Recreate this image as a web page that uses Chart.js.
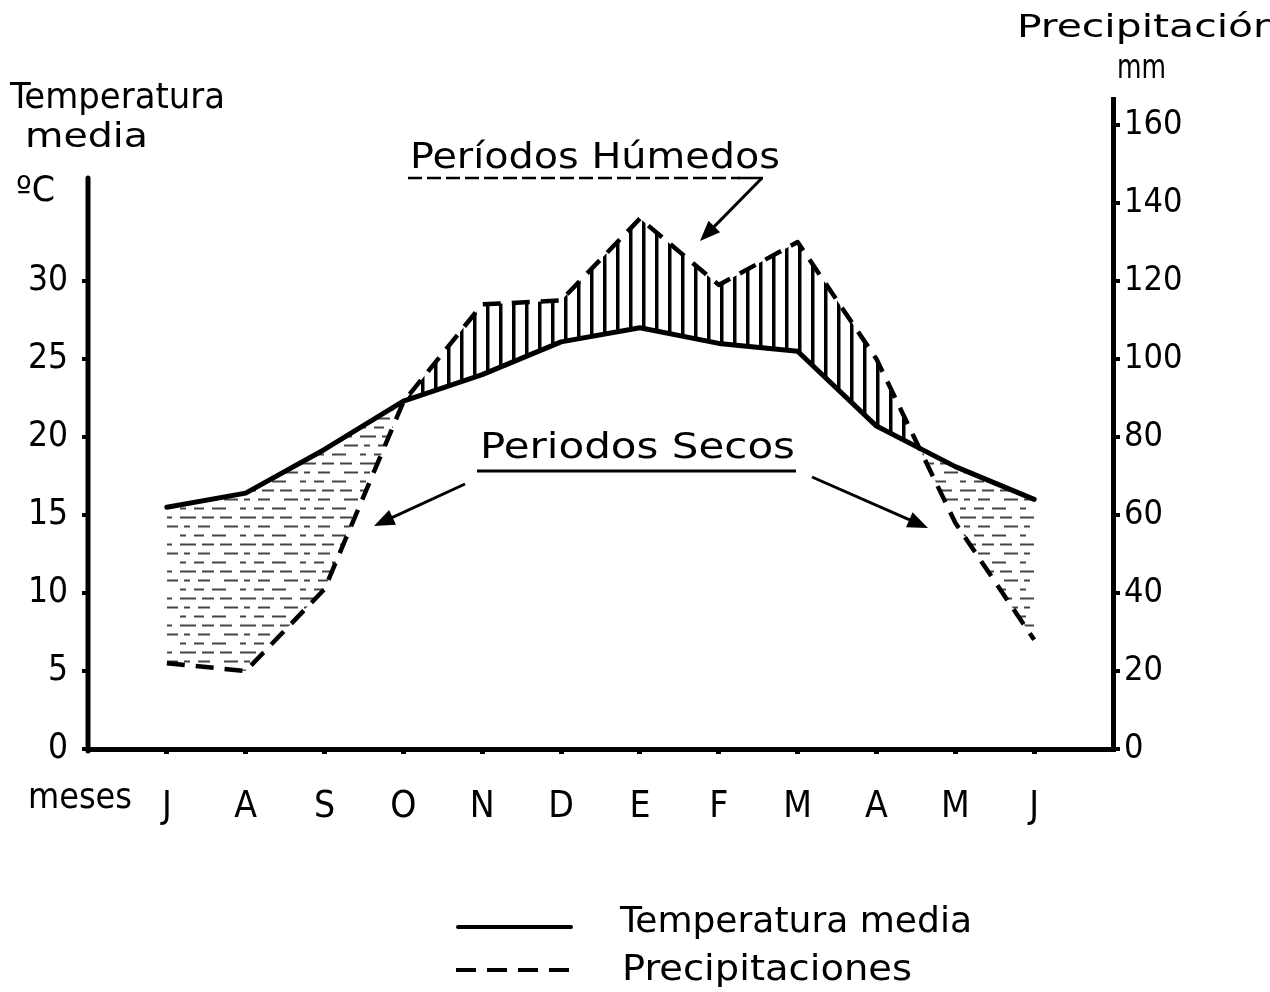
<!DOCTYPE html>
<html>
<head>
<meta charset="utf-8">
<script src="https://cdn.jsdelivr.net/npm/chart.js@4"></script>
<style>
  html, body { margin: 0; padding: 0; background: #fff; }
  #wrap { width: 1270px; height: 992px; }
</style>
</head>
<body>
<div id="wrap"><canvas id="climograma" width="1270" height="992"></canvas></div>
<script>
// meses (julio a junio)
const meses = ['J', 'A', 'S', 'O', 'N', 'D', 'E', 'F', 'M', 'A', 'M', 'J'];
// temperatura media, °C
const temperatura = [15.5, 16.4, 19.2, 22.3, 24.0, 26.1, 27.0, 26.0, 25.5, 20.7, 18.1, 16.0];
// precipitaciones, mm
const precipitacion = [22, 20, 41, 89, 114, 115, 136, 119, 130, 100, 58, 28];
// ticks
const ticksTemp = [0, 5, 10, 15, 20, 25, 30];
const ticksPrec = [0, 20, 40, 60, 80, 100, 120, 140, 160];

const FAMILY = '"DejaVu Sans Condensed", "DejaVu Sans", sans-serif';
const font = size => `${size}px ${FAMILY}`;
Chart.defaults.font.family = FAMILY;
Chart.defaults.color = '#000';

// hatching: vertical lines for wet period, broken horizontal lines for dry period
function wetPattern() {
  const c = document.createElement('canvas');
  c.width = 13; c.height = 8;
  const g = c.getContext('2d');
  g.fillStyle = '#000';
  g.fillRect(5, 0, 3.5, 8);
  return g.createPattern(c, 'repeat');
}

function dryPattern() {
  const c = document.createElement('canvas');
  c.width = 60; c.height = 27;
  const g = c.getContext('2d');
  g.strokeStyle = '#444';
  g.lineWidth = 2;
  const rows = [
    [[0, 16], [22, 34], [40, 52]],
    [[4, 10], [18, 30], [44, 58]],
    [[0, 6], [14, 24], [32, 46]]
  ];
  rows.forEach((segs, r) => segs.forEach(([a, b]) => {
    g.beginPath();
    g.moveTo(a, r * 9 + 4.5);
    g.lineTo(b, r * 9 + 4.5);
    g.stroke();
  }));
  return g.createPattern(c, 'repeat');
}

function fitText(ctx, str, x, base, size, w) {
  ctx.save();
  ctx.font = font(size);
  const m = ctx.measureText(str).width;
  ctx.translate(x, base);
  ctx.scale(w / m, 1);
  ctx.textAlign = 'left';
  ctx.textBaseline = 'alphabetic';
  ctx.fillStyle = '#000';
  ctx.fillText(str, 0, 0);
  ctx.restore();
}

function arrow(ctx, x1, y1, x2, y2, head = 20, lw = 3) {
  const a = Math.atan2(y2 - y1, x2 - x1);
  ctx.save();
  ctx.strokeStyle = '#000';
  ctx.fillStyle = '#000';
  ctx.lineWidth = lw;
  ctx.setLineDash([]);
  ctx.beginPath();
  ctx.moveTo(x1, y1);
  ctx.lineTo(x2 - Math.cos(a) * head * 0.6, y2 - Math.sin(a) * head * 0.6);
  ctx.stroke();
  ctx.beginPath();
  ctx.moveTo(x2, y2);
  ctx.lineTo(x2 - head * Math.cos(a - 0.38), y2 - head * Math.sin(a - 0.38));
  ctx.lineTo(x2 - head * Math.cos(a + 0.38), y2 - head * Math.sin(a + 0.38));
  ctx.closePath();
  ctx.fill();
  ctx.restore();
}

const decor = {
  id: 'decor',
  afterDraw(chart) {
    const ctx = chart.ctx;
    const yT = chart.scales.yT;
    const left = chart.chartArea.left;

    // left axis line (stops above 30 °C)
    ctx.save();
    ctx.strokeStyle = '#000';
    ctx.lineWidth = 5;
    ctx.lineCap = 'round';
    ctx.beginPath();
    ctx.moveTo(left, yT.getPixelForValue(0) + 2);
    ctx.lineTo(left, yT.getPixelForValue(36.6));
    ctx.stroke();
    ctx.restore();

    // axis titles
    fitText(ctx, 'Temperatura', 10, 108, 36, 215);
    fitText(ctx, 'media', 25, 147, 34, 123);
    fitText(ctx, 'ºC', 16, 201, 36, 39);
    fitText(ctx, 'Precipitación', 1017, 37, 32, 262);
    fitText(ctx, 'mm', 1117, 78, 34, 49);
    fitText(ctx, 'meses', 28, 808, 36, 104);

    // Períodos Húmedos
    fitText(ctx, 'Períodos Húmedos', 410, 168, 35, 370);
    ctx.save();
    ctx.strokeStyle = '#000';
    ctx.lineWidth = 2.5;
    ctx.setLineDash([14, 5]);
    ctx.beginPath();
    ctx.moveTo(408, 178);
    ctx.lineTo(740, 178);
    ctx.stroke();
    ctx.setLineDash([]);
    ctx.beginPath();
    ctx.moveTo(738, 178);
    ctx.lineTo(763, 178);
    ctx.stroke();
    ctx.restore();
    arrow(ctx, 762, 178, 700, 241, 22, 3);

    // Periodos Secos
    fitText(ctx, 'Periodos Secos', 480, 458, 35, 315);
    ctx.save();
    ctx.strokeStyle = '#000';
    ctx.lineWidth = 3;
    ctx.beginPath();
    ctx.moveTo(477, 471);
    ctx.lineTo(796, 471);
    ctx.stroke();
    ctx.restore();
    arrow(ctx, 465, 484, 374, 526, 22, 3);
    arrow(ctx, 812, 477, 928, 528, 22, 3);

    // legend
    ctx.save();
    ctx.strokeStyle = '#000';
    ctx.lineWidth = 4;
    ctx.lineCap = 'round';
    ctx.beginPath();
    ctx.moveTo(458, 927);
    ctx.lineTo(571, 927);
    ctx.stroke();
    ctx.setLineDash([20, 11]);
    ctx.lineCap = 'butt';
    ctx.beginPath();
    ctx.moveTo(456, 970);
    ctx.lineTo(574, 970);
    ctx.stroke();
    ctx.restore();
    fitText(ctx, 'Temperatura media', 620, 932, 35, 352);
    fitText(ctx, 'Precipitaciones', 622, 980, 35, 290);
  }
};

const canvas = document.getElementById('climograma');
new Chart(canvas, {
  type: 'line',
  data: {
    datasets: [
      {
        label: 'Temperatura media',
        data: temperatura.map((v, i) => ({ x: i + 1, y: v })),
        yAxisID: 'yT',
        borderColor: '#000',
        borderWidth: 5,
        borderCapStyle: 'round',
        borderJoinStyle: 'round',
        pointRadius: 0,
        tension: 0,
        fill: false
      },
      {
        label: 'Precipitaciones',
        data: precipitacion.map((v, i) => ({ x: i + 1, y: v })),
        yAxisID: 'yP',
        borderColor: '#000',
        borderWidth: 4.5,
        borderDash: [18, 11],
        borderJoinStyle: 'round',
        pointRadius: 0,
        tension: 0,
        fill: { target: 0, above: wetPattern(), below: dryPattern() }
      }
    ]
  },
  options: {
    responsive: false,
    animation: false,
    devicePixelRatio: 1,
    layout: { padding: { top: 99, left: 0, right: 0, bottom: 0 } },
    plugins: {
      legend: { display: false },
      tooltip: { enabled: false },
      filler: { drawTime: 'beforeDatasetsDraw' }
    },
    scales: {
      x: {
        type: 'linear',
        min: 0,
        max: 13,
        afterBuildTicks: s => { s.ticks = meses.map((m, i) => ({ value: i + 1 })); },
        afterFit: s => { s.height = 243; },
        ticks: {
          callback: (v, i) => meses[i],
          font: { size: 37 },
          padding: 31,
          maxRotation: 0,
          autoSkip: false
        },
        grid: { drawOnChartArea: false, tickLength: 5, lineWidth: 5, color: '#000' },
        border: { display: true, width: 5, color: '#000' }
      },
      yT: {
        type: 'linear',
        position: 'left',
        min: 0,
        max: 650 / 15.6,
        afterBuildTicks: s => { s.ticks = ticksTemp.map(v => ({ value: v })); },
        afterFit: s => { s.width = 88; },
        ticks: { font: { size: 35 }, padding: 14, autoSkip: false },
        grid: { drawOnChartArea: false, tickLength: 6, lineWidth: 4, color: '#000' },
        border: { display: false }
      },
      yP: {
        type: 'linear',
        position: 'right',
        min: 0,
        max: 4 * 650 / 15.6,
        afterBuildTicks: s => { s.ticks = ticksPrec.map(v => ({ value: v })); },
        afterFit: s => { s.width = 157; },
        ticks: { font: { size: 34 }, padding: 4, autoSkip: false },
        grid: { drawOnChartArea: false, tickLength: 7, lineWidth: 4, color: '#000' },
        border: { display: true, width: 5, color: '#000' }
      }
    }
  },
  plugins: [decor]
});
</script>
</body>
</html>
